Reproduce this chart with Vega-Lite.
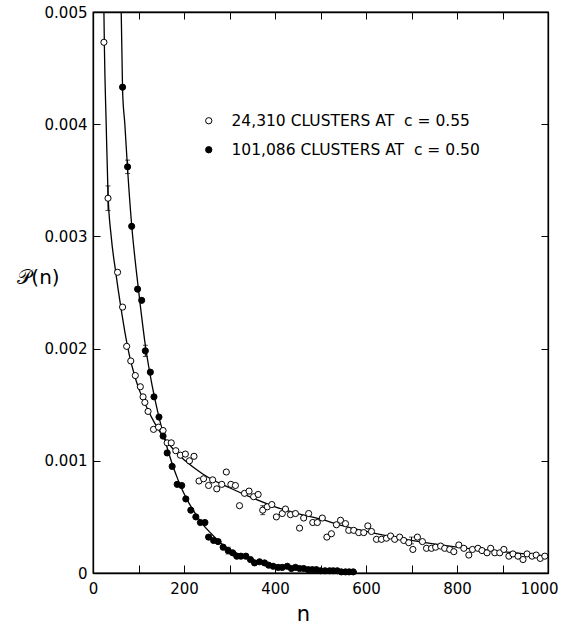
{
  "$schema": "https://vega.github.io/schema/vega-lite/v6.json",
  "width": 455,
  "height": 561,
  "autosize": {"type": "none"},
  "padding": {"left": 93, "top": 12, "right": 16, "bottom": 53},
  "background": "white",
  "config": {
    "font": "DejaVu Sans",
    "view": {"stroke": "black", "strokeWidth": 1.3},
    "axis": {"grid": false, "domainColor": "black", "tickColor": "black", "labelColor": "black", "titleColor": "black", "labelFont": "DejaVu Sans", "labelFontSize": 15, "tickWidth": 1, "domainWidth": 1.3}
  },
  "datasets": {
    "pts": [
      {"n": 24, "p": 0.00473, "s": "a"}, {"n": 33, "p": 0.00334, "s": "a"}, {"n": 54, "p": 0.00268, "s": "a"}, {"n": 65, "p": 0.00237, "s": "a"},
      {"n": 74, "p": 0.00202, "s": "a"}, {"n": 83, "p": 0.00189, "s": "a"}, {"n": 93, "p": 0.00176, "s": "a"}, {"n": 104, "p": 0.00166, "s": "a"},
      {"n": 110, "p": 0.00157, "s": "a"}, {"n": 114, "p": 0.00152, "s": "a"}, {"n": 121, "p": 0.00144, "s": "a"}, {"n": 133, "p": 0.00128, "s": "a"},
      {"n": 144, "p": 0.0013, "s": "a"}, {"n": 154, "p": 0.00127, "s": "a"}, {"n": 163, "p": 0.00116, "s": "a"}, {"n": 172, "p": 0.00116, "s": "a"},
      {"n": 182, "p": 0.00109, "s": "a"}, {"n": 192, "p": 0.00105, "s": "a"}, {"n": 203, "p": 0.00106, "s": "a"}, {"n": 212, "p": 0.001, "s": "a"},
      {"n": 222, "p": 0.00104, "s": "a"}, {"n": 233, "p": 0.00082, "s": "a"}, {"n": 243, "p": 0.00084, "s": "a"}, {"n": 254, "p": 0.00078, "s": "a"},
      {"n": 263, "p": 0.00083, "s": "a"}, {"n": 272, "p": 0.00075, "s": "a"}, {"n": 283, "p": 0.00079, "s": "a"}, {"n": 293, "p": 0.0009, "s": "a"},
      {"n": 303, "p": 0.00079, "s": "a"}, {"n": 313, "p": 0.00078, "s": "a"}, {"n": 322, "p": 0.0006, "s": "a"}, {"n": 333, "p": 0.00071, "s": "a"},
      {"n": 343, "p": 0.00073, "s": "a"}, {"n": 353, "p": 0.00068, "s": "a"}, {"n": 363, "p": 0.0007, "s": "a"}, {"n": 373, "p": 0.00056, "s": "a"},
      {"n": 383, "p": 0.00059, "s": "a"}, {"n": 393, "p": 0.00061, "s": "a"}, {"n": 403, "p": 0.0005, "s": "a"}, {"n": 416, "p": 0.00053, "s": "a"},
      {"n": 423, "p": 0.00057, "s": "a"}, {"n": 434, "p": 0.00052, "s": "a"}, {"n": 445, "p": 0.00053, "s": "a"}, {"n": 454, "p": 0.0004, "s": "a"},
      {"n": 463, "p": 0.00049, "s": "a"}, {"n": 474, "p": 0.00053, "s": "a"}, {"n": 483, "p": 0.00045, "s": "a"}, {"n": 493, "p": 0.00045, "s": "a"},
      {"n": 504, "p": 0.00049, "s": "a"}, {"n": 514, "p": 0.00032, "s": "a"}, {"n": 524, "p": 0.00035, "s": "a"}, {"n": 535, "p": 0.00043, "s": "a"},
      {"n": 544, "p": 0.00047, "s": "a"}, {"n": 555, "p": 0.00044, "s": "a"}, {"n": 562, "p": 0.00038, "s": "a"}, {"n": 573, "p": 0.00038, "s": "a"},
      {"n": 584, "p": 0.00036, "s": "a"}, {"n": 595, "p": 0.00036, "s": "a"}, {"n": 604, "p": 0.00042, "s": "a"}, {"n": 612, "p": 0.00037, "s": "a"},
      {"n": 623, "p": 0.0003, "s": "a"}, {"n": 634, "p": 0.0003, "s": "a"}, {"n": 645, "p": 0.00031, "s": "a"}, {"n": 654, "p": 0.00033, "s": "a"},
      {"n": 663, "p": 0.0003, "s": "a"}, {"n": 674, "p": 0.00032, "s": "a"}, {"n": 683, "p": 0.00029, "s": "a"}, {"n": 694, "p": 0.00027, "s": "a"},
      {"n": 703, "p": 0.00021, "s": "a"}, {"n": 713, "p": 0.00032, "s": "a"}, {"n": 724, "p": 0.00028, "s": "a"}, {"n": 733, "p": 0.00022, "s": "a"},
      {"n": 744, "p": 0.00022, "s": "a"}, {"n": 753, "p": 0.00023, "s": "a"}, {"n": 764, "p": 0.00024, "s": "a"}, {"n": 773, "p": 0.00022, "s": "a"},
      {"n": 784, "p": 0.00021, "s": "a"}, {"n": 793, "p": 0.00019, "s": "a"}, {"n": 804, "p": 0.00025, "s": "a"}, {"n": 815, "p": 0.00022, "s": "a"},
      {"n": 826, "p": 0.00016, "s": "a"}, {"n": 834, "p": 0.00021, "s": "a"}, {"n": 846, "p": 0.00022, "s": "a"}, {"n": 855, "p": 0.0002, "s": "a"},
      {"n": 866, "p": 0.00018, "s": "a"}, {"n": 874, "p": 0.00022, "s": "a"}, {"n": 883, "p": 0.00018, "s": "a"}, {"n": 894, "p": 0.00018, "s": "a"},
      {"n": 903, "p": 0.00021, "s": "a"}, {"n": 914, "p": 0.00015, "s": "a"}, {"n": 923, "p": 0.00017, "s": "a"}, {"n": 934, "p": 0.00015, "s": "a"},
      {"n": 945, "p": 0.00012, "s": "a"}, {"n": 954, "p": 0.00017, "s": "a"}, {"n": 965, "p": 0.00015, "s": "a"}, {"n": 974, "p": 0.00016, "s": "a"},
      {"n": 983, "p": 0.00013, "s": "a"}, {"n": 993, "p": 0.00015, "s": "a"},
      {"n": 65, "p": 0.00433, "s": "b"}, {"n": 76, "p": 0.00362, "s": "b"}, {"n": 85, "p": 0.00309, "s": "b"}, {"n": 98, "p": 0.00253, "s": "b"},
      {"n": 107, "p": 0.00243, "s": "b"}, {"n": 115, "p": 0.00198, "s": "b"}, {"n": 126, "p": 0.00179, "s": "b"}, {"n": 134, "p": 0.00157, "s": "b"},
      {"n": 145, "p": 0.00139, "s": "b"}, {"n": 154, "p": 0.00122, "s": "b"}, {"n": 163, "p": 0.00107, "s": "b"}, {"n": 174, "p": 0.00095, "s": "b"},
      {"n": 185, "p": 0.00079, "s": "b"}, {"n": 195, "p": 0.00078, "s": "b"}, {"n": 204, "p": 0.00066, "s": "b"}, {"n": 215, "p": 0.00056, "s": "b"},
      {"n": 226, "p": 0.0005, "s": "b"}, {"n": 236, "p": 0.00045, "s": "b"}, {"n": 246, "p": 0.00045, "s": "b"}, {"n": 254, "p": 0.00032, "s": "b"},
      {"n": 265, "p": 0.00029, "s": "b"}, {"n": 275, "p": 0.00028, "s": "b"}, {"n": 286, "p": 0.00023, "s": "b"}, {"n": 297, "p": 0.0002, "s": "b"},
      {"n": 307, "p": 0.00018, "s": "b"}, {"n": 316, "p": 0.00015, "s": "b"}, {"n": 325, "p": 0.00015, "s": "b"}, {"n": 336, "p": 0.00015, "s": "b"},
      {"n": 346, "p": 0.00012, "s": "b"}, {"n": 355, "p": 0.00009, "s": "b"}, {"n": 366, "p": 0.0001, "s": "b"}, {"n": 377, "p": 0.00009, "s": "b"},
      {"n": 386, "p": 0.00007, "s": "b"}, {"n": 396, "p": 0.00006, "s": "b"}, {"n": 407, "p": 0.00005, "s": "b"}, {"n": 416, "p": 0.00005, "s": "b"},
      {"n": 427, "p": 0.00006, "s": "b"}, {"n": 436, "p": 0.00004, "s": "b"}, {"n": 445, "p": 0.00005, "s": "b"}, {"n": 454, "p": 0.00004, "s": "b"},
      {"n": 463, "p": 0.00004, "s": "b"}, {"n": 473, "p": 0.00003, "s": "b"}, {"n": 482, "p": 0.00003, "s": "b"}, {"n": 491, "p": 0.00003, "s": "b"},
      {"n": 500, "p": 0.00002, "s": "b"}, {"n": 510, "p": 0.00002, "s": "b"}, {"n": 520, "p": 0.00002, "s": "b"}, {"n": 528, "p": 0.00002, "s": "b"},
      {"n": 537, "p": 0.00002, "s": "b"}, {"n": 546, "p": 0.00001, "s": "b"}, {"n": 555, "p": 0.00001, "s": "b"}, {"n": 563, "p": 0.00001, "s": "b"},
      {"n": 572, "p": 0.00001, "s": "b"}
    ],
    "errs": [
      {"n": 33, "lo": 0.00323, "hi": 0.00345},
      {"n": 373, "lo": 0.00052, "hi": 0.0006},
      {"n": 76, "lo": 0.00356, "hi": 0.00368},
      {"n": 115, "lo": 0.00193, "hi": 0.00203},
      {"n": 297, "lo": 0.00017, "hi": 0.00023},
      {"n": 700, "lo": 0.00026, "hi": 0.00032}
    ],
    "curves": [
      {"n": 24, "p": 0.005, "s": "a"}, {"n": 25, "p": 0.0047, "s": "a"}, {"n": 29, "p": 0.004, "s": "a"}, {"n": 33, "p": 0.00338, "s": "a"},
      {"n": 40, "p": 0.003, "s": "a"}, {"n": 50, "p": 0.00268, "s": "a"}, {"n": 60, "p": 0.0024, "s": "a"}, {"n": 70, "p": 0.00215, "s": "a"},
      {"n": 80, "p": 0.00194, "s": "a"}, {"n": 90, "p": 0.00178, "s": "a"}, {"n": 100, "p": 0.00165, "s": "a"}, {"n": 110, "p": 0.00155, "s": "a"},
      {"n": 120, "p": 0.00146, "s": "a"}, {"n": 135, "p": 0.00134, "s": "a"}, {"n": 150, "p": 0.00124, "s": "a"}, {"n": 175, "p": 0.00111, "s": "a"},
      {"n": 200, "p": 0.00101, "s": "a"}, {"n": 225, "p": 0.00093, "s": "a"}, {"n": 250, "p": 0.00086, "s": "a"}, {"n": 300, "p": 0.00076, "s": "a"},
      {"n": 350, "p": 0.00067, "s": "a"}, {"n": 400, "p": 0.00059, "s": "a"}, {"n": 450, "p": 0.00053, "s": "a"}, {"n": 500, "p": 0.00048, "s": "a"},
      {"n": 550, "p": 0.00042, "s": "a"}, {"n": 600, "p": 0.00037, "s": "a"}, {"n": 700, "p": 0.00029, "s": "a"}, {"n": 800, "p": 0.00023, "s": "a"},
      {"n": 900, "p": 0.00019, "s": "a"}, {"n": 1000, "p": 0.00015, "s": "a"},
      {"n": 62, "p": 0.005, "s": "b"}, {"n": 65, "p": 0.0043, "s": "b"}, {"n": 70, "p": 0.004, "s": "b"}, {"n": 76, "p": 0.0036, "s": "b"},
      {"n": 85, "p": 0.0031, "s": "b"}, {"n": 95, "p": 0.0027, "s": "b"}, {"n": 105, "p": 0.00235, "s": "b"}, {"n": 115, "p": 0.00203, "s": "b"},
      {"n": 125, "p": 0.00178, "s": "b"}, {"n": 135, "p": 0.00157, "s": "b"}, {"n": 145, "p": 0.00139, "s": "b"}, {"n": 155, "p": 0.00123, "s": "b"},
      {"n": 165, "p": 0.00109, "s": "b"}, {"n": 175, "p": 0.00096, "s": "b"}, {"n": 185, "p": 0.00085, "s": "b"}, {"n": 195, "p": 0.00075, "s": "b"},
      {"n": 210, "p": 0.00063, "s": "b"}, {"n": 225, "p": 0.00053, "s": "b"}, {"n": 240, "p": 0.00044, "s": "b"}, {"n": 260, "p": 0.00035, "s": "b"},
      {"n": 280, "p": 0.00027, "s": "b"}, {"n": 300, "p": 0.00021, "s": "b"}, {"n": 325, "p": 0.00016, "s": "b"}, {"n": 350, "p": 0.00012, "s": "b"},
      {"n": 375, "p": 0.00009, "s": "b"}, {"n": 400, "p": 0.00007, "s": "b"}, {"n": 450, "p": 0.00004, "s": "b"}, {"n": 500, "p": 0.00003, "s": "b"},
      {"n": 550, "p": 0.00002, "s": "b"}, {"n": 580, "p": 0.00001, "s": "b"}
    ]
  },
  "resolve": {"axis": {"x": "independent", "y": "independent"}},
  "layer": [
    {
      "data": {"name": "curves"},
      "mark": {"type": "line", "color": "black", "strokeWidth": 1.3, "interpolate": "monotone", "clip": true},
      "encoding": {
        "x": {"field": "n", "type": "quantitative", "scale": {"domain": [0, 1000], "nice": false},
          "axis": {"orient": "bottom", "values": [0, 100, 200, 300, 400, 500, 600, 700, 800, 900, 1000], "labelExpr": "datum.value % 200 == 0 ? datum.label : ''", "format": "d", "tickSize": -8, "labelPadding": 16, "labelFlush": false,
            "labelOffset": {"condition": {"test": "datum.value == 1000", "value": -9}, "value": 0},
            "title": "n", "titleFontSize": 21, "titleFontWeight": "normal", "titleX": 210, "titleY": 41, "titleAlign": "center", "titleBaseline": "middle"}},
        "y": {"field": "p", "type": "quantitative", "scale": {"domain": [0, 0.005], "nice": false},
          "axis": {"orient": "left", "values": [0, 0.001, 0.002, 0.003, 0.004, 0.005], "labelExpr": "datum.value == 0 ? '0' : format(datum.value, '.3f')", "tickSize": -7, "labelPadding": 13, "labelFlush": false,
            "title": "𝒫(n)", "titleFontSize": 20, "titleFontWeight": "normal", "titleAngle": 0, "titleX": -55, "titleY": 265, "titleAlign": "center", "titleBaseline": "middle"}},
        "detail": {"field": "s", "type": "nominal"}
      }
    },
    {
      "data": {"name": "errs"},
      "mark": {"type": "errorbar", "color": "black", "ticks": true},
      "encoding": {
        "x": {"field": "n", "type": "quantitative", "axis": null},
        "y": {"field": "lo", "type": "quantitative", "axis": null},
        "y2": {"field": "hi"}
      }
    },
    {
      "data": {"name": "pts"},
      "mark": {"type": "point", "filled": true, "stroke": "black", "strokeWidth": 1, "size": 38, "opacity": 1},
      "encoding": {
        "x": {"field": "n", "type": "quantitative", "axis": null},
        "y": {"field": "p", "type": "quantitative", "axis": null},
        "fill": {"field": "s", "type": "nominal", "scale": {"domain": ["a", "b"], "range": ["white", "black"]},
          "legend": {"orient": "none", "legendX": 108, "legendY": 101, "title": null, "padding": 0, "symbolType": "circle", "symbolSize": 40, "symbolStrokeColor": "black", "symbolStrokeWidth": 1,
            "labelFontSize": 15.5, "labelFont": "DejaVu Sans", "labelColor": "black", "labelOffset": 15, "rowPadding": 12, "labelLimit": 400,
            "labelExpr": "datum.value == 'a' ? '24,310 CLUSTERS AT\u00a0\u00a0c = 0.55' : '101,086 CLUSTERS AT\u00a0\u00a0c = 0.50'"}}
      }
    },
    {
      "data": {"name": "curves"},
      "mark": {"type": "point", "opacity": 0},
      "encoding": {
        "x": {"field": "n", "type": "quantitative", "axis": {"orient": "top", "values": [0, 100, 200, 300, 400, 500, 600, 700, 800, 900, 1000], "labels": false, "tickSize": -7, "title": null}},
        "y": {"field": "p", "type": "quantitative", "axis": {"orient": "right", "values": [0, 0.001, 0.002, 0.003, 0.004, 0.005], "labels": false, "tickSize": -7, "title": null}}
      }
    }
  ]
}
